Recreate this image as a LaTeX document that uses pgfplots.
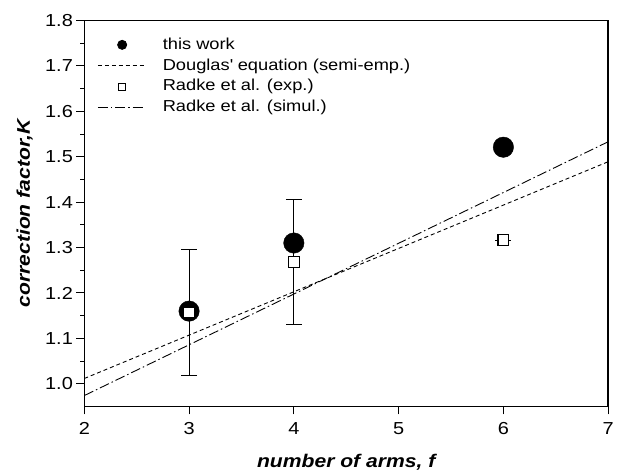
\documentclass[border=0pt]{standalone}
\usepackage{fontspec}
\setmainfont{Liberation Sans}[FakeStretch=1.15]
\usepackage{pgfplots}
\pgfplotsset{compat=1.18}

% legend images: a 47pt line segment, or one smaller mark in its middle
\pgfplotsset{
  linelegend/.style={legend image code/.code={\draw[##1] (0pt,0pt) -- (47pt,0pt);}},
  marklegend/.style={legend image code/.code={\draw[##1, mark size=#1, /tikz/every mark/.append style={line width=0.8pt}] plot coordinates {(24.5pt,0pt)};}},
}

\begin{document}
\begin{tikzpicture}
\begin{axis}[
  scale only axis,
  width=528pt, height=389pt,
  xmin=2, xmax=7, ymin=0.95, ymax=1.8,
  xtick={2,3,4,5,6,7},
  ytick={1.0,1.1,1.2,1.3,1.4,1.5,1.6,1.7,1.8},
  minor y tick num=1,
  xtick pos=bottom, ytick pos=left,
  tick align=outside,
  major tick length=8pt, minor tick length=4pt,
  every tick/.style={black, line width=1pt},
  axis line style={line width=1.3pt},
  /pgf/number format/assume math mode=true,
  yticklabel style={/pgf/number format/.cd, fixed, fixed zerofill, precision=1},
  tick label style={font=\fontsize{17.5}{20}\selectfont},
  xticklabel style={yshift=-5pt},
  xlabel={\bfseries\itshape number of arms, f},
  ylabel={\bfseries\itshape correction factor,K},
  label style={font=\fontsize{18.5}{22}\selectfont},
  xlabel style={at={(axis description cs:0.5,0)}, anchor=base, inner sep=0pt, yshift=-62pt},
  ylabel style={at={(axis description cs:0,0.5)}, anchor=base, inner sep=0pt, yshift=55pt},
  legend cell align=left,
  legend style={draw=none, fill=none, inner sep=0pt,
    at={(axis description cs:0,1)}, anchor=north west, xshift=13pt, yshift=-13.8pt,
    font=\fontsize{16}{19}\selectfont,
    nodes={text height=12pt, text depth=3pt, inner sep=3pt},
    /tikz/every odd column/.append style={column sep=15pt}},
  linelegend,
]
% this work
\addplot[only marks, mark=*, mark size=10.3pt, black, marklegend=4.6pt]
  coordinates {(3,1.160) (4,1.310) (6,1.521)};
\addlegendentry{this work}
% Douglas' semi-empirical equation
\addplot[black, line width=0.9pt, dash pattern=on 4pt off 3pt]
  coordinates {(2,1.0116) (7,1.489)};
\addlegendentry{Douglas\textquotesingle\ equation (semi-emp.)}
% Radke et al., experiment, with error bars
\addplot[only marks, mark=square*, mark size=5.5pt, black,
  mark options={fill=white, line width=1.2pt}, marklegend=3.6pt,
  error bars/.cd, y dir=both, y explicit,
  error bar style={line width=1.1pt}, error mark options={rotate=90, mark size=8pt, line width=1.1pt},
  ]
  coordinates {(3,1.157) +- (0,0.139) (4,1.268) +- (0,0.138) (6,1.316) +- (0,0)};
\addlegendentry{Radke et al. (exp.)}
% Radke et al., simulation
\addplot[black, line width=0.9pt, dash pattern=on 10pt off 3pt on 1.5pt off 3pt]
  coordinates {(2,0.974) (7,1.533)};
\addlegendentry{Radke et al. (simul.)}
\end{axis}
\path ([shift={(-85pt,-64pt)}]current axis.south west) rectangle ([shift={(5pt,20.7pt)}]current axis.north east);
\end{tikzpicture}
\end{document}
